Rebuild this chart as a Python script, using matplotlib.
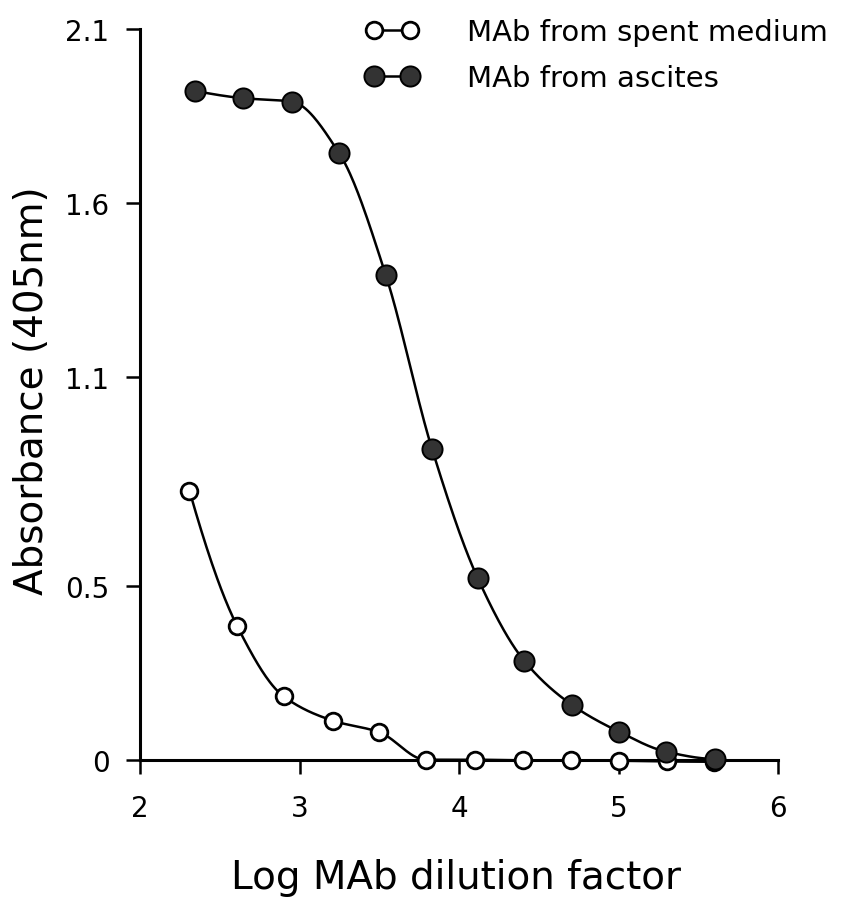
import numpy as np
import matplotlib
matplotlib.use("Agg")
import matplotlib.pyplot as plt
from matplotlib.lines import Line2D

# ---- data ----
x_spent = [2.31, 2.61, 2.90, 3.21, 3.50, 3.79, 4.10, 4.40, 4.70, 5.00, 5.30, 5.60]
y_spent = [0.773, 0.383, 0.182, 0.112, 0.079, 0.0, 0.0, -0.002, -0.002, -0.003, -0.005, -0.006]

x_ascites = [2.345, 2.643, 2.951, 3.249, 3.540, 3.830, 4.116, 4.408, 4.705, 4.999, 5.297, 5.602]
y_ascites = [1.922, 1.901, 1.891, 1.742, 1.393, 0.893, 0.522, 0.284, 0.158, 0.081, 0.023, 0.002]

x_ticks = [2, 3, 4, 5, 6]
y_ticks = [0, 0.5, 1.1, 1.6, 2.1]
y_ticklabels = ["0", "0.5", "1.1", "1.6", "2.1"]

labels = ["MAb from spent medium", "MAb from ascites"]
x_label = "Log MAb dilution factor"
y_label = "Absorbance (405nm)"


def pchip(x, y, xn):
    """Monotone cubic (PCHIP) curve through the points for a smooth line."""
    x = np.asarray(x, float)
    y = np.asarray(y, float)
    h = np.diff(x)
    d = np.diff(y) / h
    n = len(x)
    m = np.zeros(n)
    for k in range(1, n - 1):
        if d[k - 1] * d[k] <= 0:
            m[k] = 0.0
        else:
            w1 = 2 * h[k] + h[k - 1]
            w2 = h[k] + 2 * h[k - 1]
            m[k] = (w1 + w2) / (w1 / d[k - 1] + w2 / d[k])

    def end(h0, h1, d0, d1):
        mm = ((2 * h0 + h1) * d0 - h0 * d1) / (h0 + h1)
        if np.sign(mm) != np.sign(d0):
            mm = 0.0
        elif np.sign(d0) != np.sign(d1) and abs(mm) > abs(3 * d0):
            mm = 3 * d0
        return mm

    m[0] = end(h[0], h[1], d[0], d[1])
    m[-1] = end(h[-1], h[-2], d[-1], d[-2])
    xn = np.asarray(xn, float)
    idx = np.clip(np.searchsorted(x, xn) - 1, 0, n - 2)
    t = (xn - x[idx]) / h[idx]
    h00 = 2 * t**3 - 3 * t**2 + 1
    h10 = t**3 - 2 * t**2 + t
    h01 = -2 * t**3 + 3 * t**2
    h11 = t**3 - t**2
    return h00 * y[idx] + h10 * h[idx] * m[idx] + h01 * y[idx + 1] + h11 * h[idx] * m[idx + 1]


plt.rcParams['font.family'] = ['DejaVu Sans']

fig = plt.figure(figsize=(8.62, 9.03), dpi=100)
ax = fig.add_axes([140 / 862, 1 - 760.7 / 903, (778.3 - 140) / 862, (760.7 - 29.9) / 903])

lw = 1.8
# smooth curves
xs = np.linspace(x_spent[0], x_spent[-1], 400)
ax.plot(xs, pchip(x_spent, y_spent, xs), color='black', lw=lw, clip_on=False, zorder=3)
xa = np.linspace(x_ascites[0], x_ascites[-1], 400)
ax.plot(xa, pchip(x_ascites, y_ascites, xa), color='black', lw=lw, clip_on=False, zorder=3)

# markers
open_kw = dict(marker='o', markersize=12, markerfacecolor='white', markeredgecolor='black',
               markeredgewidth=2.0, linestyle='none')
fill_kw = dict(marker='o', markersize=14.5, markerfacecolor='#333333', markeredgecolor='black',
               markeredgewidth=1.4, linestyle='none')
ax.plot(x_spent, y_spent, clip_on=False, zorder=4, **open_kw)
ax.plot(x_ascites, y_ascites, clip_on=False, zorder=5, **fill_kw)

ax.set_xlim(2, 6)
ax.set_ylim(0, 2.1)
ax.set_xticks(x_ticks)
ax.set_xticklabels([str(v) for v in x_ticks])
ax.set_yticks(y_ticks)
ax.set_yticklabels(y_ticklabels)

for s in ['top', 'right']:
    ax.spines[s].set_visible(False)
for s in ['left', 'bottom']:
    ax.spines[s].set_linewidth(2.2)

ax.tick_params(axis='both', direction='out', length=10, width=1.8, labelsize=20, colors='black')
ax.tick_params(axis='x', pad=15)
ax.tick_params(axis='y', pad=12)

fig.text(456.5 / 862, 1 - 878 / 903, x_label, fontsize=28, ha='center', va='center')
fig.text(32 / 862, 1 - 391 / 903, y_label, fontsize=28, ha='center', va='center', rotation=90)

handles = [Line2D([], [], color='black', lw=lw, **open_kw),
           Line2D([], [], color='black', lw=lw, **fill_kw)]
for hnd in handles:
    hnd.set_linestyle('-')
leg = ax.legend(handles, labels, loc='upper left', bbox_to_anchor=(365.5 / 862, 1 - 19 / 903),
                bbox_transform=fig.transFigure, frameon=False, fontsize=21, numpoints=2,
                handlelength=1.82, handletextpad=1.66, labelspacing=0.62, borderpad=0,
                borderaxespad=0)

fig.savefig('out.png', dpi=100)
